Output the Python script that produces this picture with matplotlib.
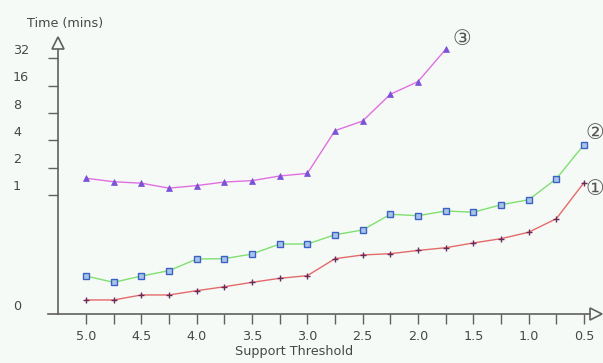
import numpy as np
import matplotlib
matplotlib.use('Agg')
import matplotlib.pyplot as plt
import matplotlib.transforms as mtransforms

# ----------
# Run times against support threshold

thresholds = [5.0, 4.75, 4.5, 4.25, 4.0, 3.75, 3.5, 3.25, 3.0, 2.75,
              2.5, 2.25, 2.0, 1.75, 1.5, 1.25, 1.0, 0.75, 0.5]

time_1 = [0.118, 0.118, 0.160, 0.160, 0.196, 0.229, 0.266, 0.300, 0.322, 0.465,
          0.496, 0.507, 0.534, 0.557, 0.597, 0.633, 0.687, 0.801, 1.37]
time_2 = [0.319, 0.266, 0.319, 0.364, 0.462, 0.465, 0.504, 0.588, 0.588, 0.666,
          0.706, 0.838, 0.826, 0.866, 0.855, 0.918, 0.960, 1.51, 3.59]
time_3 = [1.53, 1.40, 1.35, 1.19, 1.27, 1.39, 1.44, 1.62, 1.73, 5.12,
          6.55, 12.9, 17.8, 40.4]

xticks = [5.0, 4.5, 4.0, 3.5, 3.0, 2.5, 2.0, 1.5, 1.0, 0.5]
ytick_marks = [1, 2, 4, 8, 16, 32]
ytick_labels = [0, 1, 2, 4, 8, 16, 32]

# ----------

# linear between 0 and 1, one step per doubling above 1
K = 27.3 / 119.0

def forward(v):
    v = np.asarray(v, dtype=float)
    return np.where(v <= 1, v, 1 + K * np.log2(np.maximum(v, 1)))

def inverse(u):
    u = np.asarray(u, dtype=float)
    return np.where(u <= 1, u, 2 ** ((np.maximum(u, 1) - 1) / K))

bg = '#f6faf7'
axis_color = '#606060'
text_color = '#474747'
fs = 9.2

W, H = 603, 363
fig = plt.figure(figsize=(W / 100, H / 100), dpi=100, facecolor=bg)
ax = fig.add_axes([48 / W, 1 - 314 / H, 542 / W, 264 / H], facecolor=bg)

ax.set_yscale('function', functions=(forward, inverse))
ax.set_xlim(5.3434, 0.4458)
ax.set_ylim(0, float(inverse(264 / 119.0)))

ax.spines['right'].set_visible(False)
ax.spines['top'].set_visible(False)
left_pos = 10 / 542
ax.spines['left'].set_position(('axes', left_pos))
for s in ('left', 'bottom'):
    ax.spines[s].set_color(axis_color)
    ax.spines[s].set_linewidth(1.2)

# arrow heads at the ends of both axes
ax.plot([1 + 6 / 542], [0], marker='>', ms=8, mfc=bg, mec=axis_color, mew=1.2,
        transform=ax.transAxes, clip_on=False)
ax.plot([left_pos], [1 + 7 / 264], marker='^', ms=8, mfc=bg, mec=axis_color, mew=1.2,
        transform=ax.transAxes, clip_on=False)

ax.set_xticks(xticks)
ax.set_xticks(thresholds, minor=True)
ax.set_xticklabels(['%.1f' % t for t in xticks])
ax.tick_params(axis='x', which='both', direction='out', length=7.5, width=1,
               color=axis_color, labelsize=fs, labelcolor=text_color, pad=4)
ax.tick_params(axis='x', which='minor', labelbottom=False)

ax.set_yticks(ytick_marks)
ax.set_yticks([], minor=True)
ax.yaxis.set_minor_formatter(matplotlib.ticker.NullFormatter())
ax.tick_params(axis='y', direction='out', length=7.5, width=1,
               color=axis_color, labelleft=False)

# y labels sit a little above their tick marks
ytrans = mtransforms.offset_copy(ax.get_yaxis_transform(), fig=fig, y=8, units='dots')
for v in ytick_labels:
    ax.text(-35 / 542, v, str(v), transform=ytrans, ha='left', va='center',
            fontsize=fs, color=text_color)

ax.set_xlabel('Support Threshold', fontsize=fs, color=text_color)
ax.xaxis.set_label_coords(246.5 / 542, -37.7 / 264)
ax.xaxis.label.set_va('center')

fig.text(27 / W, 1 - 23 / H, 'Time (mins)', ha='left', va='center',
         fontsize=fs, color=text_color)

ax.plot(thresholds, time_1, color='#e46a6a', lw=1, marker='+', ms=5,
        mec='#6a2a5a', mew=1, clip_on=False)
ax.plot(thresholds, time_2, color='#7fe070', lw=1, marker='s', ms=3.8,
        mfc='#a9c4e8', mec='#3a62c4', mew=1, clip_on=False)
ax.plot(thresholds[:len(time_3)], time_3, color='#e070e0', lw=1, marker='^', ms=4,
        mfc='#7a52d8', mec='#7a52d8', mew=0.5, clip_on=False)

# series tags next to the last points
tags = [('\u2460', thresholds[-1], time_1[-1], (8, -4.5)),
        ('\u2461', thresholds[-1], time_2[-1], (8, 8.5)),
        ('\u2462', thresholds[len(time_3) - 1], time_3[-1], (11.5, 7.5))]
for s, x, y, off in tags:
    ax.annotate(s, (x, y), xytext=off, textcoords='offset points',
                ha='center', va='center', fontsize=15, color='#555555',
                family=['DejaVu Sans', 'Noto Sans CJK SC'], annotation_clip=False)

plt.savefig('out.png', dpi=100, facecolor=bg)
